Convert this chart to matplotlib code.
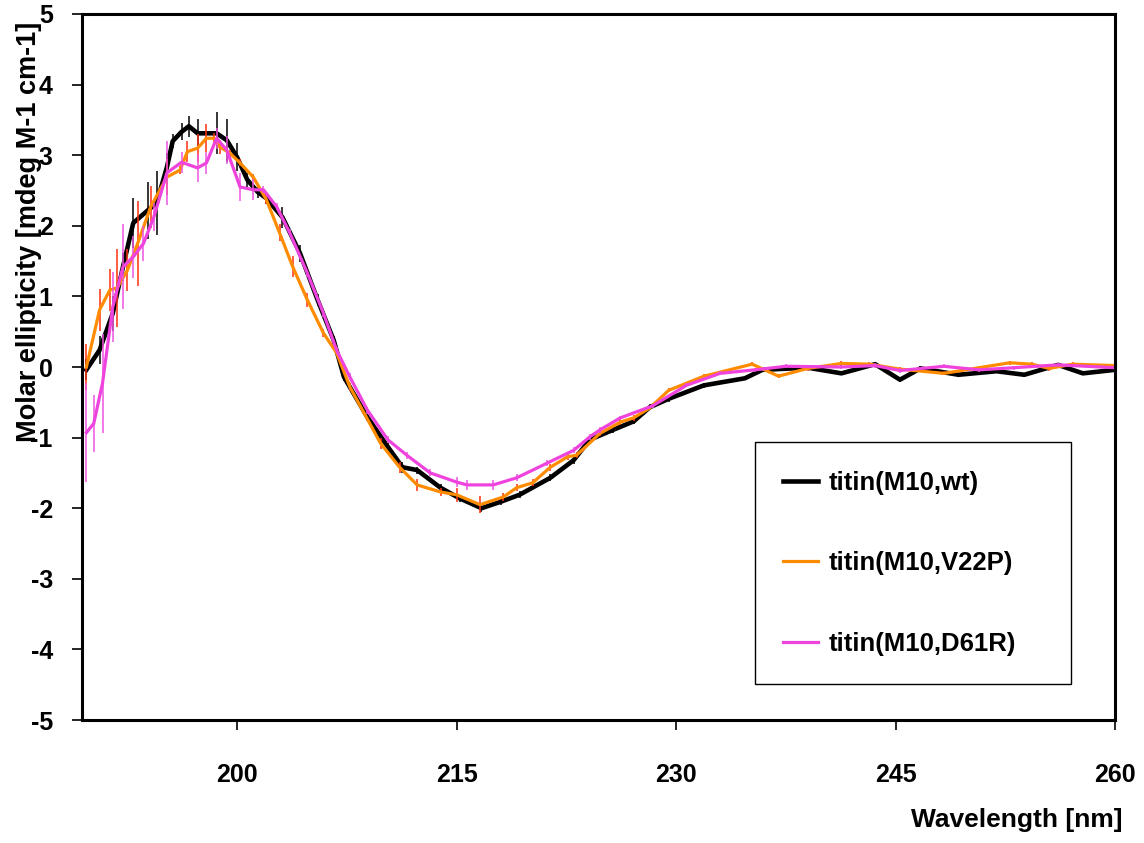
"""
Circular dichroism spectra of three titin M10 constructs.
"""

# Third party import
import matplotlib
matplotlib.use("Agg")
import matplotlib.pyplot as plt


# Wild type
x_wt = [189.7, 190.6, 191.5, 192.2, 192.9, 193.9, 194.5, 195.2, 195.6, 196.2,
        196.7, 197.3, 198.6, 199.3, 200.0, 200.7, 201.4, 202.0, 203.1, 204.3,
        205.5, 206.6, 207.3, 208.9, 210.3, 211.3, 212.3, 213.9, 215.2, 216.7,
        218.0, 219.3, 221.4, 223.0, 224.1, 225.7, 227.1, 228.2, 229.5, 231.9,
        234.7, 235.9, 239.0, 241.3, 243.6, 245.3, 246.7, 249.3, 251.9, 253.8,
        256.1, 257.8, 260.0]
y_wt = [-0.04, 0.24, 0.76, 1.42, 2.04, 2.22, 2.32, 2.83, 3.20, 3.33,
        3.41, 3.31, 3.31, 3.21, 2.97, 2.65, 2.48, 2.39, 2.12, 1.61,
        0.95, 0.38, -0.14, -0.71, -1.13, -1.42, -1.46, -1.71, -1.86, -2.00,
        -1.91, -1.81, -1.57, -1.32, -1.03, -0.89, -0.77, -0.57, -0.45, -0.26,
        -0.16, -0.04, -0.01, -0.09, 0.04, -0.18, -0.02, -0.11, -0.06, -0.11,
        0.03, -0.09, -0.04]
e_wt = [0.15, 0.20, 0.25, 0.20, 0.35, 0.40, 0.45, 0.20, 0.10, 0.12,
        0.15, 0.20, 0.30, 0.30, 0.20, 0.10, 0.08, 0.08, 0.15, 0.12,
        0.08, 0.06, 0.06, 0.06, 0.06, 0.08, 0.05, 0.05, 0.05, 0.06,
        0.05, 0.05, 0.05, 0.05, 0.05, 0.04, 0.04, 0.04, 0.04, 0.04,
        0.03, 0.03, 0.03, 0.03, 0.03, 0.03, 0.03, 0.03, 0.03, 0.03,
        0.03, 0.03, 0.03]

# V22P mutant
x_v22p = [189.7, 190.6, 191.3, 191.8, 192.5, 193.2, 194.1, 195.2, 196.1, 196.6,
          197.3, 197.9, 198.4, 198.8, 199.5, 200.2, 201.1, 202.0, 202.9, 203.8,
          204.8, 205.9, 206.8, 207.7, 209.8, 211.1, 212.3, 213.9, 215.0, 216.6,
          218.2, 219.1, 220.2, 221.4, 222.6, 223.2, 224.8, 226.2, 227.1, 228.2,
          229.5, 231.9, 235.2, 237.0, 239.0, 241.3, 243.2, 245.3, 248.3, 250.7,
          252.8, 254.3, 255.5, 257.1, 260.0]
y_v22p = [0.00, 0.81, 1.09, 1.12, 1.37, 1.75, 2.27, 2.69, 2.79, 3.05,
          3.10, 3.24, 3.24, 3.12, 3.03, 2.89, 2.69, 2.37, 1.90, 1.42,
          0.95, 0.48, 0.20, -0.28, -1.08, -1.42, -1.67, -1.77, -1.81, -1.95,
          -1.84, -1.71, -1.64, -1.42, -1.27, -1.25, -0.94, -0.78, -0.72, -0.58,
          -0.33, -0.13, 0.04, -0.13, -0.02, 0.05, 0.04, -0.03, -0.09, -0.01,
          0.06, 0.04, -0.02, 0.04, 0.02]
e_v22p = [0.33, 0.30, 0.30, 0.55, 0.30, 0.60, 0.30, 0.25, 0.05, 0.15,
          0.20, 0.20, 0.08, 0.10, 0.05, 0.05, 0.05, 0.06, 0.12, 0.15,
          0.10, 0.06, 0.05, 0.06, 0.08, 0.08, 0.08, 0.06, 0.10, 0.12,
          0.06, 0.05, 0.05, 0.05, 0.05, 0.04, 0.04, 0.04, 0.04, 0.03,
          0.03, 0.03, 0.03, 0.03, 0.03, 0.03, 0.03, 0.03, 0.03, 0.03,
          0.03, 0.03, 0.03, 0.03, 0.03]

# D61R mutant
x_d61r = [189.7, 190.2, 190.8, 191.5, 192.2, 192.9, 193.6, 194.3, 195.2, 196.2,
          197.3, 197.9, 198.6, 199.3, 200.2, 201.1, 201.8, 202.7, 203.6, 204.8,
          205.9, 206.8, 207.7, 208.9, 210.3, 211.6, 213.2, 215.0, 215.7, 217.5,
          219.1, 221.2, 223.0, 224.1, 224.8, 226.2, 228.4, 230.7, 233.0, 235.4,
          237.5, 241.3, 243.6, 245.3, 248.3, 250.7, 253.1, 256.1, 260.0]
y_d61r = [-0.93, -0.80, -0.23, 0.85, 1.42, 1.56, 1.75, 2.12, 2.75, 2.90,
          2.82, 2.89, 3.24, 3.07, 2.55, 2.51, 2.51, 2.27, 1.90, 1.33,
          0.76, 0.24, -0.14, -0.61, -1.03, -1.25, -1.50, -1.63, -1.67, -1.67,
          -1.57, -1.36, -1.18, -0.99, -0.89, -0.72, -0.55, -0.26, -0.09, -0.04,
          0.01, 0.00, 0.02, -0.05, 0.01, -0.04, -0.01, 0.03, -0.01]
e_d61r = [0.70, 0.40, 0.70, 0.50, 0.60, 0.30, 0.25, 0.20, 0.45, 0.15,
          0.20, 0.15, 0.15, 0.20, 0.20, 0.15, 0.05, 0.05, 0.05, 0.05,
          0.05, 0.05, 0.05, 0.05, 0.05, 0.05, 0.05, 0.07, 0.07, 0.07,
          0.05, 0.04, 0.04, 0.04, 0.04, 0.03, 0.03, 0.03, 0.03, 0.03,
          0.03, 0.03, 0.03, 0.03, 0.03, 0.03, 0.03, 0.03, 0.03]

x_ticks = [200, 215, 230, 245, 260]
y_ticks = [-5, -4, -3, -2, -1, 0, 1, 2, 3, 4, 5]

plt.rcParams["font.family"] = ["Liberation Sans", "DejaVu Sans"]
plt.rcParams["font.weight"] = "bold"
plt.rcParams["axes.unicode_minus"] = False

# Create a figure
fig = plt.figure(figsize=(11.44, 8.43), dpi=100)
ax = fig.add_axes([0.0717, 0.1459, 0.9030, 0.8375])

# Spectra: error bars first, then the line on top
series = [
    (x_wt, y_wt, e_wt, "black", "black", 3.3, "titin(M10,wt)"),
    (x_v22p, y_v22p, e_v22p, "#ff8c00", "#ff3010", 2.3, "titin(M10,V22P)"),
    (x_d61r, y_d61r, e_d61r, "#ee44dd", "#ee55e0", 2.3, "titin(M10,D61R)"),
]
for xs, ys, es, color, ecolor, lw, label in series:
    ax.errorbar(xs, ys, yerr=es, fmt="none", ecolor=ecolor, elinewidth=1.1,
                capsize=0)
    ax.plot(xs, ys, color=color, lw=lw, label=label)

# Axes
ax.set_xlim(189.4, 260)
ax.set_ylim(-5, 5)
ax.set_xticks(x_ticks)
ax.set_yticks(y_ticks)
ax.tick_params(axis="both", direction="out", length=7, width=1.2,
               labelsize=18)
ax.tick_params(axis="x", pad=24)
ax.tick_params(axis="y", pad=14)
for spine in ax.spines.values():
    spine.set_linewidth(2.2)
for lab in ax.get_xticklabels() + ax.get_yticklabels():
    lab.set_fontweight("bold")

ax.set_xlabel("Wavelength [nm]", fontsize=19, fontweight="bold")
ax.xaxis.set_label_coords(1.007, -0.124)
ax.xaxis.label.set_horizontalalignment("right")
ax.set_ylabel("Molar ellipticity [mdeg M-1 cm-1]", fontsize=19.5,
              fontweight="bold")
ax.yaxis.set_label_coords(-0.039, 0.691)

# Legend
leg = ax.legend(loc="upper left", bbox_to_anchor=(0.651, 0.035, 0.306, 0.359),
                mode="expand", fontsize=18.5, frameon=True, fancybox=False,
                framealpha=1, labelspacing=2.2, handlelength=1.36,
                handletextpad=0.39, borderpad=1.12, borderaxespad=0)
leg.get_frame().set_edgecolor("black")
leg.get_frame().set_linewidth(1.0)
for text in leg.get_texts():
    text.set_fontweight("bold")

plt.savefig("out.png", dpi=100)
